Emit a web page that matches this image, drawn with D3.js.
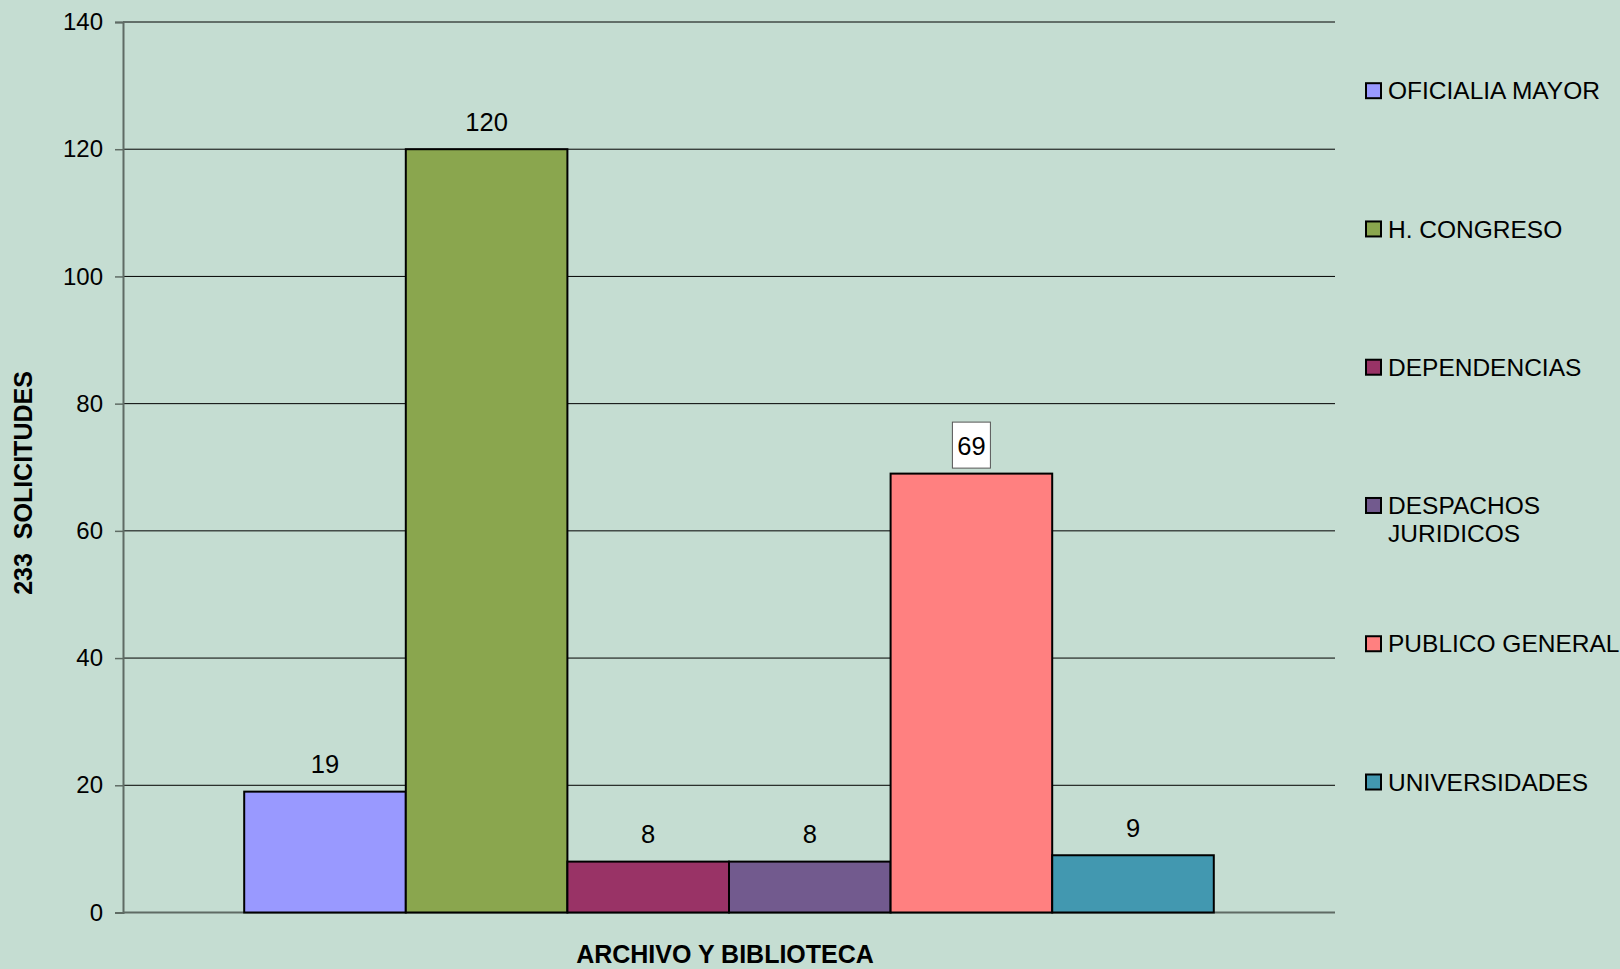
<!DOCTYPE html>
<html>
<head>
<meta charset="utf-8">
<script src="https://cdn.jsdelivr.net/npm/d3@7/dist/d3.min.js"></script>
<style>
  html, body { margin: 0; padding: 0; background: #c5ddd2; }
  svg { display: block; font-family: "Liberation Sans", Arial, sans-serif; }
</style>
</head>
<body>
<div id="chart"></div>
<script>
const categories = ['ARCHIVO Y BIBLIOTECA'];
const seriesNames = ['OFICIALIA MAYOR', 'H. CONGRESO', 'DEPENDENCIAS', 'DESPACHOS JURIDICOS', 'PUBLICO GENERAL', 'UNIVERSIDADES'];
const seriesValues = [19, 120, 8, 8, 69, 9];
const seriesColors = ['#9999ff', '#8aa64e', '#993366', '#725a8e', '#ff8080', '#4298b0'];
const yTicks = [0, 20, 40, 60, 80, 100, 120, 140];

const specs = {
    width: 1620,
    height: 969,
    margin: { top: 22, right: 285, bottom: 56.5, left: 123 },
};

const width = specs.width - specs.margin.left - specs.margin.right;
const height = specs.height - specs.margin.top - specs.margin.bottom;

const svg = d3.select('#chart')
    .append('svg')
    .attr('width', specs.width)
    .attr('height', specs.height);

svg.append('rect')
    .attr('width', specs.width)
    .attr('height', specs.height)
    .attr('fill', '#c5ddd2');

const g = svg.append('g')
    .attr('transform', `translate(${specs.margin.left},${specs.margin.top})`);

const x0 = d3.scaleBand().domain(categories).range([0, width]).paddingOuter(0.125);
const x1 = d3.scaleBand().domain(seriesNames).range([0, x0.bandwidth()]);
const y = d3.scaleLinear().domain([0, 140]).range([height, 0]);

// gridlines
g.append('g')
    .selectAll('line')
    .data(yTicks.filter(t => t > 0))
    .enter()
    .append('line')
    .attr('x1', 0)
    .attr('x2', width)
    .attr('y1', d => y(d))
    .attr('y2', d => y(d))
    .attr('stroke', '#000')
    .attr('stroke-width', 1);

// y axis
const yAxis = g.append('g')
    .call(d3.axisLeft(y).tickValues(yTicks).tickSize(8).tickPadding(12));
yAxis.select('.domain').attr('stroke', '#5f6b64').attr('stroke-width', 2);
yAxis.selectAll('.tick line').attr('stroke', '#5f6b64').attr('stroke-width', 1.5);
yAxis.selectAll('.tick text')
    .attr('font-size', 24)
    .attr('font-family', '"Liberation Sans", Arial, sans-serif')
    .attr('fill', '#000');

// baseline
g.append('line')
    .attr('x1', 0)
    .attr('x2', width)
    .attr('y1', y(0))
    .attr('y2', y(0))
    .attr('stroke', '#5f6b64')
    .attr('stroke-width', 2);

// bars
const groupX = x0(categories[0]);
const bars = g.append('g');
bars.selectAll('.bar')
    .data(seriesValues)
    .enter()
    .append('rect')
    .attr('class', 'bar')
    .attr('x', (d, i) => groupX + x1(seriesNames[i]))
    .attr('y', d => y(d))
    .attr('width', x1.bandwidth())
    .attr('height', d => y(0) - y(d))
    .attr('fill', (d, i) => seriesColors[i])
    .attr('stroke', '#000')
    .attr('stroke-width', 2);

// value labels
const labels = g.append('g');
seriesValues.forEach((v, i) => {
    const cx = groupX + x1(seriesNames[i]) + x1.bandwidth() / 2;
    const cy = y(v) - 27.5;
    if (v === 69) {
        labels.append('rect')
            .attr('x', cx - 19)
            .attr('y', cy - 24)
            .attr('width', 38)
            .attr('height', 46)
            .attr('fill', '#fff')
            .attr('stroke', '#555')
            .attr('stroke-width', 1);
    }
    labels.append('text')
        .attr('x', cx)
        .attr('y', cy)
        .attr('dy', '0.35em')
        .attr('text-anchor', 'middle')
        .attr('font-size', 25.5)
        .text(v);
});

// axis titles
svg.append('text')
    .attr('x', specs.margin.left + width / 2 - 4)
    .attr('y', 963)
    .attr('text-anchor', 'middle')
    .attr('font-size', 25)
    .attr('font-weight', 'bold')
    .text(categories[0]);

svg.append('text')
    .attr('transform', 'translate(32,483) rotate(-90)')
    .attr('text-anchor', 'middle')
    .attr('font-size', 25)
    .attr('font-weight', 'bold')
    .attr('xml:space', 'preserve')
    .style('white-space', 'pre')
    .text('233  SOLICITUDES');

// legend
const legend = svg.append('g').attr('transform', 'translate(1366,0)');
const legendY = d3.scaleLinear().domain([0, 5]).range([90.7, 782]);
seriesNames.forEach((name, i) => {
    const item = legend.append('g').attr('transform', `translate(0,${legendY(i)})`);
    item.append('rect')
        .attr('x', 0)
        .attr('y', -7.5)
        .attr('width', 15)
        .attr('height', 15)
        .attr('fill', seriesColors[i])
        .attr('stroke', '#000')
        .attr('stroke-width', 2);
    const lines = name === 'DESPACHOS JURIDICOS' ? ['DESPACHOS', 'JURIDICOS'] : [name];
    lines.forEach((ln, j) => {
        item.append('text')
            .attr('x', 22)
            .attr('y', j * 27.6)
            .attr('dy', '0.35em')
            .attr('font-size', 24.5)
            .text(ln);
    });
});
</script>
</body>
</html>
